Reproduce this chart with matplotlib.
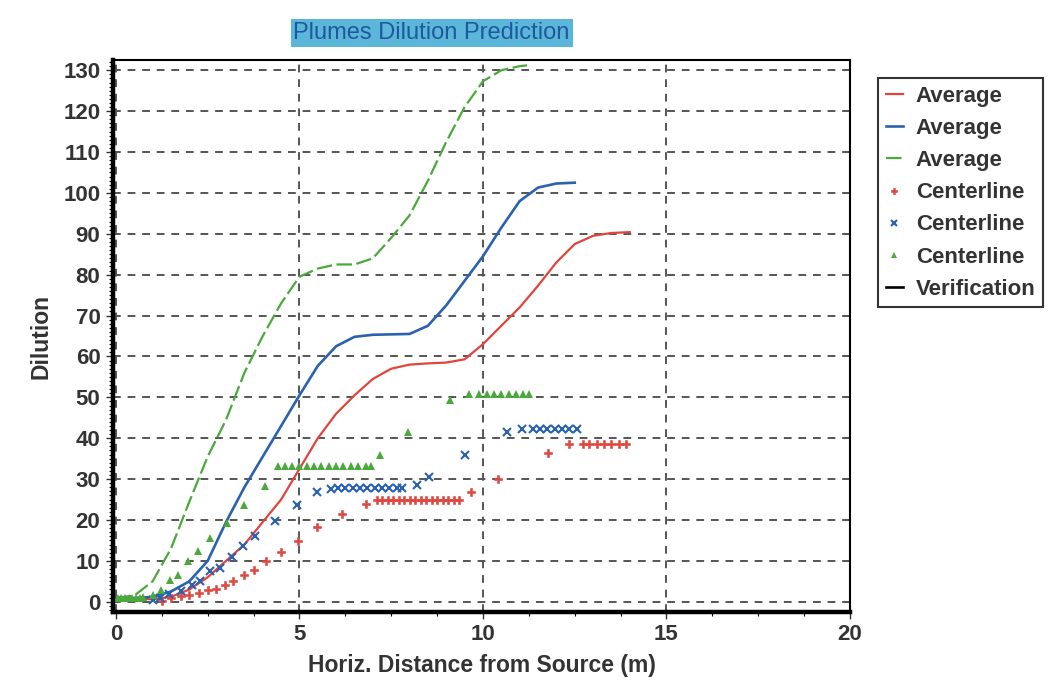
import numpy as np
import matplotlib.pyplot as plt
from matplotlib.ticker import MultipleLocator

plt.rcParams['font.family'] = ['Liberation Sans', 'DejaVu Sans']

# Average dilution curves
avg_red_x = [0, 0.5, 1.0, 1.5, 2.0, 2.5, 3.0, 3.5, 4.0, 4.5, 5.0, 5.5, 6.0, 6.5, 7.0, 7.5,
             8.0, 8.5, 9.0, 9.5, 10.0, 10.5, 11.0, 11.5, 12.0, 12.5, 13.0, 13.5, 14.0]
avg_red_y = [1, 0.8, 0.6, 1.2, 3, 6, 10, 14, 19.5, 25, 32.5, 40, 46, 50.5, 54.5, 57,
             58, 58.3, 58.5, 59.3, 63, 67.5, 72, 77.3, 83, 87.5, 89.5, 90.2, 90.4]

avg_blue_x = [0, 0.5, 1.0, 1.5, 2.0, 2.5, 3.0, 3.5, 4.0, 4.5, 5.0, 5.5, 6.0, 6.5, 7.0, 7.5,
              8.0, 8.5, 9.0, 9.5, 10.0, 10.5, 11.0, 11.5, 12.0, 12.5]
avg_blue_y = [1, 0.9, 1.2, 2.5, 5, 10, 19.5, 28, 35.5, 43, 50.5, 57.7, 62.5, 64.8, 65.3, 65.4,
              65.5, 67.5, 72.5, 78.5, 84.5, 91.5, 98, 101.3, 102.3, 102.5]

avg_green_x = [0, 0.5, 1.0, 1.5, 2.0, 2.5, 3.0, 3.5, 4.0, 4.5, 5.0, 5.5, 6.0, 6.5, 7.0, 7.5,
               8.0, 8.5, 9.0, 9.5, 10.0, 10.5, 11.0, 11.2]
avg_green_y = [1, 1.5, 5, 13, 24.5, 35.5, 44.5, 56, 65, 73, 79.5, 81.5, 82.5, 82.5, 84, 89,
               94.5, 103, 112.5, 121, 127.3, 130, 131, 131.2]

# Centerline dilution points
cl_red_x = [1.26, 1.5, 1.78, 2.0, 2.25, 2.5, 2.74, 2.97, 3.19, 3.49, 3.75, 4.1, 4.5, 4.95,
            5.47, 6.15, 6.8, 7.1, 7.25, 7.4, 7.55, 7.7, 7.85, 8.0, 8.15, 8.3, 8.45, 8.6,
            8.75, 8.9, 9.05, 9.2, 9.35, 9.67, 10.4, 11.76, 12.35, 12.72, 12.9, 13.1, 13.3,
            13.5, 13.7, 13.9]
cl_red_y = [0.2, 1, 1.4, 1.7, 2.2, 2.9, 3.2, 4.2, 5.1, 6.6, 7.8, 10, 12.2, 14.8,
            18.2, 21.4, 23.8, 24.8, 24.8, 24.8, 24.8, 24.8, 24.8, 24.8, 24.8, 24.8, 24.8, 24.8,
            24.8, 24.8, 24.8, 24.8, 24.8, 26.8, 30, 36.5, 38.6, 38.6, 38.6, 38.6, 38.6,
            38.6, 38.6, 38.6]

cl_blue_x = [1.0, 1.2, 1.45, 1.78, 2.06, 2.28, 2.56, 2.83, 3.16, 3.46, 3.79, 4.34, 4.92,
             5.47, 5.85, 6.05, 6.25, 6.45, 6.65, 6.85, 7.05, 7.25, 7.45, 7.65, 7.8, 8.19,
             8.54, 9.5, 10.66, 11.07, 11.35, 11.55, 11.75, 11.95, 12.15, 12.35, 12.55]
cl_blue_y = [0.5, 1, 1.8, 2.7, 4.2, 5.1, 7.5, 8.3, 10.9, 13.6, 16, 19.7, 23.6,
             26.8, 27.6, 27.8, 27.8, 27.8, 27.8, 27.8, 27.8, 27.8, 27.8, 27.8, 27.8, 28.6,
             30.6, 36, 41.6, 42.2, 42.3, 42.3, 42.3, 42.3, 42.3, 42.3, 42.3]

cl_green_x = [0.05, 0.15, 0.25, 0.35, 0.45, 0.55, 0.65, 0.75, 1.0, 1.23, 1.46, 1.68, 1.95,
              2.23, 2.56, 3.02, 3.49, 4.07, 4.42, 4.6, 4.8, 5.0, 5.2, 5.4, 5.6, 5.8, 6.0,
              6.2, 6.4, 6.6, 6.8, 6.95, 7.2, 7.97, 9.1, 9.62, 9.9, 10.1, 10.3, 10.5, 10.7,
              10.9, 11.1, 11.26]
cl_green_y = [0.9, 0.9, 0.9, 0.9, 0.9, 0.9, 1.0, 1.2, 1.7, 2.9, 5.4, 6.6, 10,
              12.4, 15.6, 19.2, 23.6, 28.2, 33.2, 33.2, 33.2, 33.2, 33.2, 33.2, 33.2, 33.2, 33.2,
              33.2, 33.2, 33.2, 33.2, 33.2, 36, 41.6, 49.3, 50.8, 50.8, 50.8, 50.8, 50.8, 50.8,
              50.8, 50.8, 50.8]

red = '#e0453c'
blue = '#2a62b0'
green = '#4aa83c'
txt = '#333333'

fig = plt.figure(figsize=(10.58, 6.86), dpi=100)
ax = fig.add_axes([0.1068, 0.1079, 0.6966, 0.8046])

ax.plot(avg_red_x, avg_red_y, color=red, lw=1.6, label='Average')
ax.plot(avg_blue_x, avg_blue_y, color=blue, lw=1.9, label='Average')
ax.plot(avg_green_x, avg_green_y, color=green, lw=1.6, ls=(0, (7, 2)), label='Average')
ax.plot(cl_red_x, cl_red_y, 'P', color=red, ms=6, mew=0.4, ls='none', label='Centerline')
ax.plot(cl_blue_x, cl_blue_y, 'x', color=blue, ms=6, mew=1.5, ls='none', label='Centerline')
ax.plot(cl_green_x, cl_green_y, '^', color=green, ms=5.5, mew=0, ls='none', label='Centerline')
ax.plot([], [], color='black', lw=1.9, label='Verification')

ax.set_xlim(-0.08, 20)
ax.set_ylim(-2.5, 132.5)
ax.xaxis.set_major_locator(MultipleLocator(5))
ax.xaxis.set_minor_locator(MultipleLocator(1.25))
ax.yaxis.set_major_locator(MultipleLocator(10))
ax.yaxis.set_minor_locator(MultipleLocator(1))
ax.grid(True, which='major', color='#555555', ls=(0, (4, 3.5)), lw=1.4)
ax.tick_params(which='major', length=5, width=1, labelsize=16, colors=txt, pad=4)
ax.tick_params(which='minor', length=3, width=0.8)
for lbl in ax.get_xticklabels() + ax.get_yticklabels():
    lbl.set_fontweight('bold')

for side in ['top', 'right']:
    ax.spines[side].set_linewidth(1.5)
for side in ['left', 'bottom']:
    ax.spines[side].set_linewidth(3.2)

ax.set_xlabel('Horiz. Distance from Source (m)', fontsize=16.5, fontweight='bold',
              color=txt, labelpad=6)
ax.set_ylabel('Dilution', fontsize=16.5, fontweight='bold', color=txt, labelpad=8)

fig.text(0.408, 0.952, 'Plumes Dilution Prediction', fontsize=17, color='#1d5a9c',
         ha='center', va='center',
         bbox=dict(boxstyle='square,pad=0.12', facecolor='#5bb6da', edgecolor='none'))

leg = ax.legend(loc='upper left', bbox_to_anchor=(0.83, 0.886), bbox_transform=fig.transFigure,
                prop={'size': 16, 'weight': 'bold'}, frameon=True, fancybox=False,
                edgecolor='black', handlelength=0.75, handletextpad=0.6, borderpad=0.35,
                labelspacing=0.5, markerscale=0.7, borderaxespad=0)
leg.get_frame().set_linewidth(1.5)
for t in leg.get_texts():
    t.set_color(txt)

fig.savefig('out.png', dpi=100)
